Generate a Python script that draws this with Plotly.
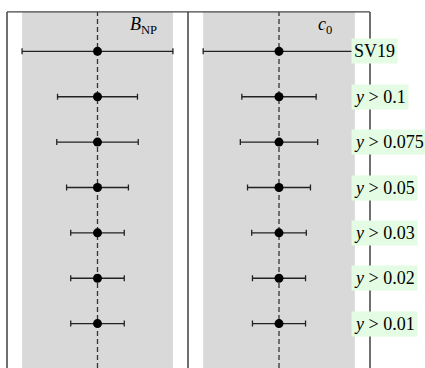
import plotly.graph_objects as go

# ---- data (normalised so that the SV19 uncertainty = 1) ----
labels = ["SV19", "<i>y</i> &gt; 0.1", "<i>y</i> &gt; 0.075", "<i>y</i> &gt; 0.05",
          "<i>y</i> &gt; 0.03", "<i>y</i> &gt; 0.02", "<i>y</i> &gt; 0.01"]
bnp_center = [0.0, 0.0, 0.0, 0.0, 0.0, 0.0, 0.0]
bnp_err = [1.0, 0.53, 0.54, 0.41, 0.355, 0.355, 0.355]
c0_center = [0.0, 0.0, 0.0, 0.0, 0.0, 0.0, 0.0]
c0_err = [1.0, 0.49, 0.51, 0.415, 0.36, 0.35, 0.35]
titles = ["<i>B</i><sub>NP</sub>", "<i>c</i><sub>0</sub>"]

n = len(labels)
ypos = [n - i for i in range(n)]

W, H = 425, 368
FONT = "Liberation Serif, DejaVu Serif, serif"
dom1 = [7 / W, 188 / W]
dom2 = [188 / W, 370 / W]
ytop = 1 - 6 / H

fig = go.Figure()
for k, (cen, err) in enumerate([(bnp_center, bnp_err), (c0_center, c0_err)]):
    xa = "x" if k == 0 else "x2"
    fig.add_trace(go.Scatter(
        x=cen, y=ypos, mode="markers", xaxis=xa, yaxis="y",
        marker=dict(color="black", size=9),
        error_x=dict(type="data", array=err, visible=True, color="#222222",
                     thickness=1.3, width=3),
        showlegend=False, hoverinfo="skip"))
    # grey band = SV19 uncertainty
    fig.add_shape(type="rect", xref=xa, yref="paper",
                  x0=cen[0] - err[0], x1=cen[0] + err[0], y0=0, y1=ytop,
                  fillcolor="#d9d9d9", line=dict(width=0), layer="below")
    # dashed centre line
    fig.add_shape(type="line", xref=xa, yref="paper",
                  x0=cen[0], x1=cen[0], y0=0, y1=ytop,
                  line=dict(color="#333333", width=1.3, dash="5px,3px"), layer="below")

# frame lines
for x in [dom1[0], dom1[1], dom2[1]]:
    fig.add_shape(type="line", xref="paper", yref="paper", x0=x, x1=x, y0=0, y1=ytop,
                  line=dict(color="#222222", width=1.3))
fig.add_shape(type="line", xref="paper", yref="paper", x0=dom1[0], x1=dom2[1],
              y0=ytop, y1=ytop, line=dict(color="#444444", width=1.3))

# titles
for dom, t in zip([dom1, dom2], titles):
    fig.add_annotation(xref="paper", yref="paper", x=dom[0] + 0.755 * (dom[1] - dom[0]),
                       y=1 - 20 / H, text=t, showarrow=False, xanchor="center",
                       yanchor="middle", font=dict(family=FONT, size=18, color="black"))

# row labels
for lab, yv in zip(labels, ypos):
    fig.add_annotation(xref="x2", yref="y", x=0.95, y=yv, text=lab, showarrow=False,
                       xanchor="left", yanchor="middle", bgcolor="#e3fce3",
                       borderpad=2, font=dict(family=FONT, size=18, color="black"))

axis_common = dict(range=[-1.2, 1.2], showgrid=False, zeroline=False,
                   showticklabels=False, ticks="", showline=False, fixedrange=True)
fig.update_layout(
    width=W, height=H, margin=dict(l=0, r=0, t=6, b=0),
    paper_bgcolor="white", plot_bgcolor="rgba(0,0,0,0)",
    xaxis=dict(domain=dom1, **axis_common),
    xaxis2=dict(domain=dom2, **axis_common),
    yaxis=dict(range=[0.022, 8], domain=[0, 1], showgrid=False, zeroline=False,
               showticklabels=False, ticks="", showline=False, fixedrange=True),
)
fig.write_html("out.html", config={"displayModeBar": False},
               post_script="document.body.style.margin='0';document.body.style.overflow='hidden';")
